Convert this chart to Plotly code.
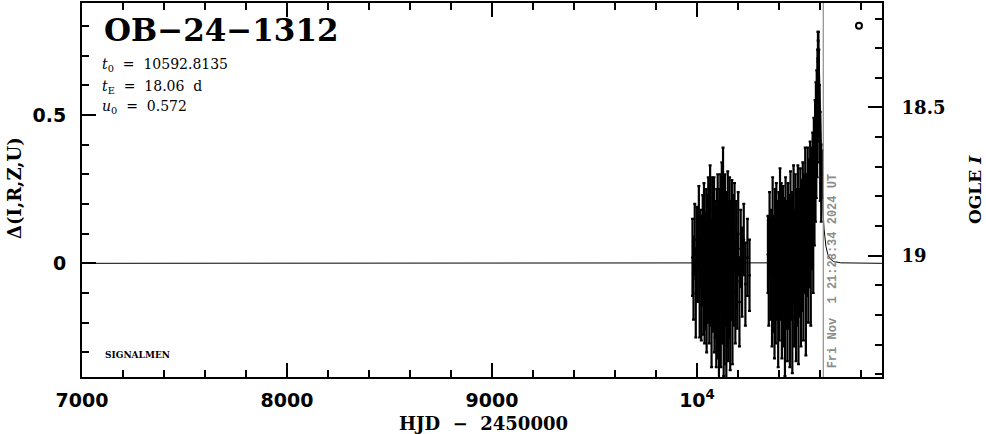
import plotly.graph_objects as go

# ---------------- data ----------------
season1_t = [9978, 9983, 9989, 9994, 10000, 10004, 10009, 10013, 10017, 10021, 10025, 10028, 10031, 10034, 10037,
             10040, 10042, 10045, 10047, 10050, 10052, 10055, 10057, 10060, 10062, 10064, 10067, 10069, 10071, 10074,
             10076, 10078, 10080, 10083, 10085, 10087, 10089, 10092, 10094, 10096, 10098, 10101, 10103, 10105, 10107,
             10110, 10112, 10114, 10116, 10119, 10121, 10123, 10125, 10127, 10130, 10132, 10134, 10136, 10139, 10141,
             10143, 10145, 10148, 10150, 10152, 10155, 10157, 10159, 10162, 10164, 10167, 10170, 10173, 10176, 10179,
             10183, 10187, 10191, 10196, 10201, 10207, 10213, 10220, 10228, 10236, 10246, 10256]
season1_d = [0.02, -0.05, 0.08, -0.10, 0.03, -0.02, 0.12, -0.08, 0.05, -0.14, 0.01, 0.09, -0.06, 0.15, -0.11,
             0.04, -0.03, 0.10, -0.16, 0.06, -0.07, 0.13, 0.00, -0.12, 0.08, 0.18, -0.04, 0.02, -0.19, 0.11,
             -0.09, 0.05, -0.01, 0.14, -0.13, 0.07, -0.06, 0.03, -0.17, 0.10, -0.02, 0.16, -0.10, 0.04, -0.21,
             0.09, -0.05, 0.12, -0.14, 0.01, 0.19, -0.08, 0.06, 0.20, -0.18, 0.03, -0.11, 0.13, -0.03, 0.08,
             -0.20, 0.05, -0.07, 0.15, -0.15, 0.02, -0.09, 0.11, -0.12, 0.04, -0.04, 0.09, -0.16, 0.07, -0.01,
             0.12, -0.10, 0.03, -0.06, 0.10, -0.13, 0.05, -0.03, 0.08, -0.07, 0.02, -0.04]
season1_e = [0.13, 0.14, 0.12, 0.15, 0.16, 0.11, 0.14, 0.17, 0.13, 0.12, 0.15, 0.14, 0.18, 0.12, 0.16,
             0.13, 0.19, 0.15, 0.14, 0.17, 0.13, 0.16, 0.20, 0.15, 0.14, 0.15, 0.17, 0.13, 0.16, 0.18,
             0.14, 0.16, 0.21, 0.15, 0.17, 0.14, 0.19, 0.16, 0.18, 0.15, 0.20, 0.14, 0.22, 0.17, 0.18,
             0.16, 0.15, 0.18, 0.21, 0.17, 0.15, 0.19, 0.16, 0.19, 0.20, 0.15, 0.23, 0.17, 0.18, 0.16,
             0.19, 0.17, 0.21, 0.16, 0.18, 0.19, 0.16, 0.18, 0.24, 0.17, 0.15, 0.19, 0.18, 0.16, 0.20,
             0.15, 0.17, 0.18, 0.16, 0.14, 0.15, 0.13, 0.15, 0.12, 0.14, 0.13, 0.12]

season2_t = [10346, 10350, 10354, 10358, 10362, 10366, 10369, 10372, 10375, 10378, 10381, 10384, 10387, 10390, 10393,
             10396, 10399, 10402, 10405, 10408, 10411, 10414, 10417, 10420, 10423, 10426, 10429, 10432, 10435, 10438,
             10441, 10444, 10447, 10450, 10453, 10456, 10459, 10462, 10465, 10468, 10471, 10474, 10477, 10480, 10483,
             10486, 10489, 10492, 10495, 10498, 10501, 10504, 10507, 10510, 10513, 10516, 10519, 10522, 10525, 10528,
             10531, 10534, 10537, 10540, 10543, 10546, 10549, 10552, 10555, 10558, 10561, 10564, 10567, 10570, 10573,
             10576, 10578, 10580, 10582, 10584, 10586, 10588, 10589, 10590, 10591, 10592, 10594, 10597, 10601, 10606,
             10610]
season2_d = [0.03, -0.06, 0.10, -0.02, 0.06, -0.12, 0.14, -0.05, 0.02, -0.15, 0.09, -0.08, 0.12, -0.01, 0.07,
             -0.18, 0.04, -0.10, 0.15, -0.04, 0.08, -0.14, 0.01, 0.11, -0.07, 0.05, -0.20, 0.13, -0.03, 0.06,
             -0.11, 0.10, -0.06, 0.03, -0.16, 0.14, -0.01, 0.08, -0.13, 0.05, 0.16, -0.08, 0.02, 0.11, -0.12,
             0.07, -0.04, 0.13, -0.09, 0.09, 0.01, 0.15, -0.06, 0.10, 0.04, 0.18, -0.02, 0.12, 0.07, 0.20,
             -0.05, 0.14, 0.09, 0.22, 0.03, 0.17, 0.11, 0.25, 0.06, 0.21, 0.15, 0.29, 0.12, 0.33, 0.24,
             0.40, 0.31, 0.47, 0.38, 0.52, 0.44, 0.60, 0.55, 0.68, 0.62, 0.66, 0.58, 0.47, 0.36, 0.27,
             0.30]
season2_e = [0.13, 0.15, 0.14, 0.17, 0.12, 0.16, 0.15, 0.18, 0.14, 0.17, 0.16, 0.19, 0.15, 0.18, 0.14,
             0.17, 0.20, 0.16, 0.17, 0.15, 0.19, 0.18, 0.16, 0.15, 0.21, 0.17, 0.18, 0.16, 0.19, 0.15,
             0.22, 0.17, 0.16, 0.20, 0.19, 0.17, 0.18, 0.16, 0.24, 0.18, 0.17, 0.20, 0.16, 0.19, 0.21,
             0.18, 0.17, 0.20, 0.25, 0.16, 0.19, 0.17, 0.22, 0.18, 0.20, 0.16, 0.24, 0.18, 0.17, 0.19,
             0.26, 0.16, 0.20, 0.17, 0.23, 0.18, 0.19, 0.16, 0.27, 0.18, 0.17, 0.15, 0.22, 0.16, 0.18,
             0.15, 0.17, 0.14, 0.16, 0.13, 0.15, 0.12, 0.14, 0.10, 0.13, 0.12, 0.14, 0.13, 0.15, 0.13,
             0.08]

model_t = [7000, 10400, 10484.4, 10520.6, 10538.6, 10547.65, 10556.7, 10565.7, 10570.2, 10574.7, 10579.3,
           10583.8, 10588.3, 10592.8, 10597.3, 10601.8, 10606.3, 10610.9, 10615.4, 10619.9, 10628.9,
           10637.95, 10647.0, 10665.0, 10701.2, 10902]
model_d = [0, 0, 0.0016, 0.0064, 0.0172, 0.0304, 0.0572, 0.115, 0.1667, 0.243, 0.354,
           0.502, 0.655, 0.729, 0.655, 0.502, 0.354, 0.243, 0.1667, 0.115, 0.0572,
           0.0304, 0.0172, 0.0064, 0.0016, 0]

marker_t = [10790]
marker_d = [0.80]

now_t = 10616
x_ticks = [7000, 8000, 9000, 10000]
x_ticktext = ["7000", "8000", "9000", "10<sup>4</sup>"]
y_ticks = [0, 0.5]
y_ticktext = ["0", "0.5"]
i_ticks = [18.5, 19]
i_ticktext = ["18.5", "19"]

title_txt = "OB\u221224\u22121312"
SP = "\u00a0"
param_lines = ["<i>t</i><sub>0</sub>" + SP * 2 + "=" + SP * 2 + "10592.8135",
               "<i>t</i><sub>E</sub>" + SP * 2 + "=" + SP * 2 + "18.06" + SP * 2 + "d",
               "<i>u</i><sub>0</sub>" + SP * 2 + "=" + SP * 2 + "0.572"]
date_txt = "Fri Nov" + SP * 2 + "1 21:28:34 2024 UT"

# ---------------- layout geometry ----------------
W, H = 986, 434
L, R, T, B = 82, 882, 1, 377
XR = [7000, 10902.4]
YR = [-0.383, 0.877]
IR = [19.409, 18.1477]

def pxx(X):
    return (X - L) / (R - L)

def pxy(Y):
    return (B - Y) / (B - T)

fig = go.Figure()

err_style = dict(type="data", visible=True, thickness=2.2, width=1.5, color="black")
for tt, dd, ee in [(season1_t, season1_d, season1_e), (season2_t, season2_d, season2_e)]:
    fig.add_trace(go.Scatter(x=tt, y=dd, mode="markers",
                             marker=dict(color="black", size=3),
                             error_y=dict(array=ee, **err_style),
                             showlegend=False, hoverinfo="skip"))

fig.add_trace(go.Scatter(x=model_t, y=model_d, mode="lines",
                         line=dict(color="black", width=1), showlegend=False, hoverinfo="skip"))

fig.add_trace(go.Scatter(x=marker_t, y=marker_d, mode="markers",
                         marker=dict(symbol="circle-open", color="black", size=6, line=dict(width=2)),
                         showlegend=False, hoverinfo="skip"))

# invisible trace on right axis so it renders
fig.add_trace(go.Scatter(x=[7000], y=[19], yaxis="y2", mode="markers",
                         marker=dict(opacity=0), showlegend=False, hoverinfo="skip"))

fig.update_layout(
    width=W, height=H,
    margin=dict(l=L, r=W - R, t=T, b=H - B, pad=0),
    plot_bgcolor="white", paper_bgcolor="white",
    xaxis=dict(range=XR, tickvals=x_ticks, ticktext=x_ticktext, ticks="inside", ticklen=14,
               tickwidth=1.5, tickcolor="black", showline=True, linewidth=2, linecolor="black",
               mirror="ticks", showgrid=False, zeroline=False,
               tickfont=dict(family="DejaVu Sans", size=19, color="black", weight="bold"),
               ticklabelstandoff=5,
               minor=dict(dtick=200, tick0=7000, ticks="inside", ticklen=7, tickwidth=1.5, tickcolor="black", showgrid=False)),
    yaxis=dict(range=YR, tickvals=y_ticks, ticktext=y_ticktext, ticks="inside", ticklen=14,
               tickwidth=1.5, tickcolor="black", showline=True, linewidth=2, linecolor="black",
               showgrid=False, zeroline=False,
               tickfont=dict(family="DejaVu Sans", size=19, color="black", weight="bold"),
               ticklabelstandoff=10,
               minor=dict(dtick=0.1, tick0=0, ticks="inside", ticklen=7, tickwidth=1.5, tickcolor="black", showgrid=False)),
    yaxis2=dict(range=IR, overlaying="y", side="right", tickvals=i_ticks, ticktext=i_ticktext,
                ticks="inside", ticklen=14, tickwidth=1.5, tickcolor="black", showline=True, linewidth=2,
                linecolor="black", showgrid=False, zeroline=False,
                tickfont=dict(family="DejaVu Serif", size=18, color="black", weight="bold"),
                ticklabelstandoff=14,
                minor=dict(dtick=0.1, tick0=18, ticks="inside", ticklen=7, tickwidth=1.5, tickcolor="black", showgrid=False)),
)

fig.add_shape(type="line", xref="x", yref="paper", x0=now_t, x1=now_t, y0=0, y1=1,
              line=dict(color="#8c8c8c", width=1.2), layer="above")

ann = []
ann.append(dict(text=title_txt, xref="paper", yref="paper", x=pxx(102), y=pxy(28), xanchor="left", yanchor="middle",
                showarrow=False, font=dict(family="DejaVu Serif", size=31, color="black", weight="bold")))
for i, (s, yy) in enumerate(zip(param_lines, [63, 85, 106])):
    ann.append(dict(text=s, xref="paper", yref="paper", x=pxx(100), y=pxy(yy), xanchor="left", yanchor="middle",
                    showarrow=False, font=dict(family="DejaVu Serif", size=14, color="black")))
ann.append(dict(text="SIGNALMEN", xref="paper", yref="paper", x=pxx(103), y=pxy(355), xanchor="left", yanchor="middle",
                showarrow=False, font=dict(family="DejaVu Serif", size=9, color="black", weight="bold")))
ann.append(dict(text=date_txt, xref="x", yref="paper", x=now_t, y=pxy(370), xanchor="left", yanchor="bottom",
                xshift=1, textangle=-90, showarrow=False,
                font=dict(family="Liberation Mono", size=12, color="#8c8c8c", weight="bold")))
ann.append(dict(text="\u0394(I,R,Z,U)", xref="paper", yref="paper", x=pxx(14), y=pxy(187), xanchor="center",
                yanchor="middle", textangle=-90, showarrow=False,
                font=dict(family="DejaVu Serif", size=18, color="black", weight="bold")))
ann.append(dict(text="OGLE <i>I</i>", xref="paper", yref="paper", x=pxx(975), y=pxy(189), xanchor="center",
                yanchor="middle", textangle=-90, showarrow=False,
                font=dict(family="DejaVu Serif", size=17, color="black", weight="bold")))
ann.append(dict(text="HJD" + SP * 2 + "\u2212" + SP * 2 + "2450000", xref="paper", yref="paper", x=pxx(483), y=pxy(424),
                xanchor="center", yanchor="middle", showarrow=False,
                font=dict(family="DejaVu Serif", size=18, color="black", weight="bold")))
fig.update_layout(annotations=ann)

fig.write_html("out.html", config={"displayModeBar": False},
               post_script="document.body.style.margin='0';document.body.style.padding='0';")
